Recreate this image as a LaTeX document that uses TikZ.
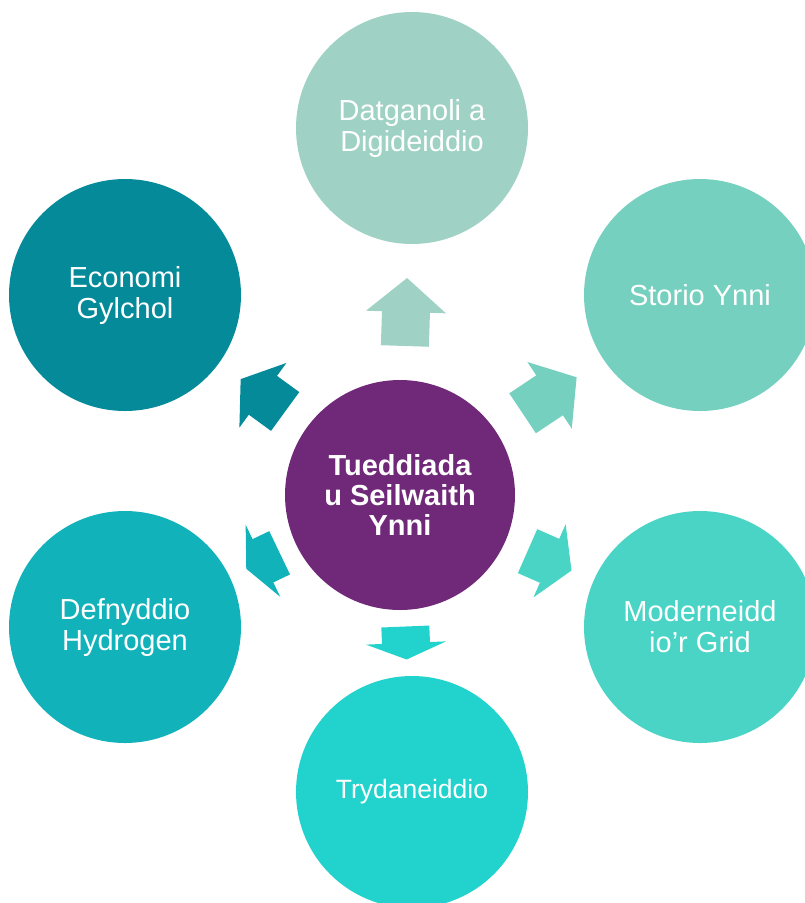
\documentclass[tikz,border=0pt]{standalone}
\usepackage{fontspec}
\setmainfont{Liberation Sans}
\usetikzlibrary{positioning}

\definecolor{hubpurple}{HTML}{702878}
\definecolor{sage}{HTML}{9FD2C5}
\definecolor{mint}{HTML}{76D0BF}
\definecolor{aqua}{HTML}{4AD4C5}
\definecolor{turq}{HTML}{22D3CD}
\definecolor{teal}{HTML}{12B2BB}
\definecolor{petrol}{HTML}{058A9A}

\tikzset{
  bubble/.style={circle,minimum size=232pt,inner sep=0pt,text=white,
    align=center,font=\fontsize{29}{31}\selectfont},
  pics/blockarrow/.style={code={
    \path[pic actions] ({-#1/2},-24) -- (0,-24) -- (0,-40) -- ({#1/2},0)
      -- (0,40) -- (0,24) -- ({-#1/2},24) -- cycle;}}
}

\begin{document}
\begin{tikzpicture}[x=1pt,y=-1pt]
\useasboundingbox (0,0) rectangle (805,903);
% circles
\node[bubble,fill=hubpurple,minimum size=230pt,font=\fontsize{29}{30}\selectfont\bfseries]
  (hub) at (400,495) {Tueddiada\\u Seilwaith\\Ynni};
\node[bubble,fill=sage] (datganoli) at (412,128) {Datganoli a\\Digideiddio};
\node[bubble,fill=mint] (storio) at (700,295) {Storio Ynni};
\node[bubble,fill=aqua] (grid) at (700,627) {Moderneidd\\io’r Grid};
\node[bubble,fill=turq,font=\fontsize{26.5}{30}\selectfont] (trydan) at (412,792) {Trydaneiddio};
\node[bubble,fill=teal] (hydrogen) at (125,627) {Defnyddio\\Hydrogen};
\node[bubble,fill=petrol] (economi) at (125,295) {Economi\\Gylchol};
% arrows
\path (hub) -- pic[midway,sloped,allow upside down,fill=sage] {blockarrow=68} (datganoli);
\path (hub) -- pic[midway,sloped,allow upside down,fill=mint] {blockarrow=65} (storio);
\path (hub) -- pic[midway,sloped,allow upside down,fill=aqua] {blockarrow=48} (grid);
\path (hub) -- pic[midway,sloped,allow upside down,fill=turq] {blockarrow=33} (trydan);
\path (hub) -- pic[midway,sloped,allow upside down,fill=teal] {blockarrow=37} (hydrogen);
\path (hub) -- pic[midway,sloped,allow upside down,fill=petrol] {blockarrow=55} (economi);
\end{tikzpicture}
\end{document}
